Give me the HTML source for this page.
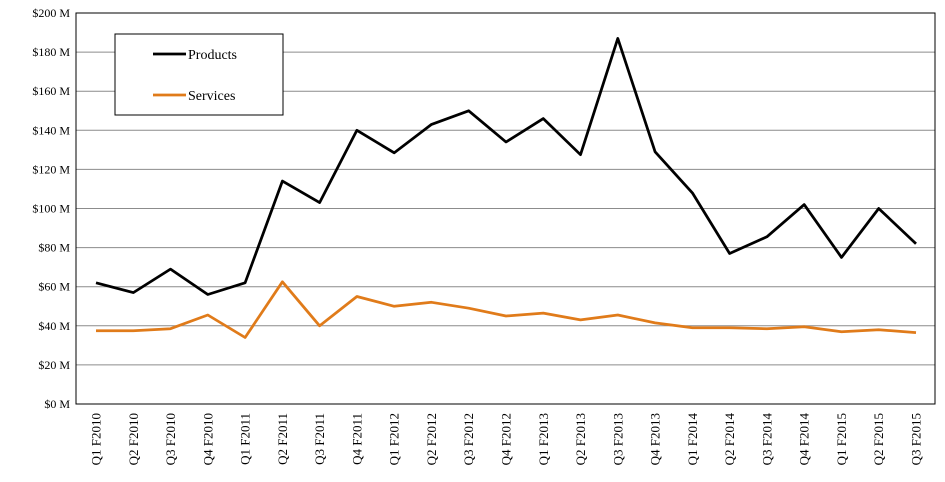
<!DOCTYPE html>
<html><head><meta charset="utf-8"><style>
html,body{margin:0;padding:0;background:#fff;}
svg{display:block;font-family:"Liberation Serif",serif;}
</style></head><body>
<svg id="chart" width="945" height="482"></svg>
<script>
const categories=["Q1 F2010","Q2 F2010","Q3 F2010","Q4 F2010","Q1 F2011","Q2 F2011","Q3 F2011","Q4 F2011","Q1 F2012","Q2 F2012","Q3 F2012","Q4 F2012","Q1 F2013","Q2 F2013","Q3 F2013","Q4 F2013","Q1 F2014","Q2 F2014","Q3 F2014","Q4 F2014","Q1 F2015","Q2 F2015","Q3 F2015"];
const products=[62,57,69,56,62,114,103,140,128.5,143,150,134,146,127.5,187,129,108,77,85.5,102,75,100,82];
const services=[37.5,37.5,38.5,45.5,34,62.5,40,55,50,52,49,45,46.5,43,45.5,41.5,39,39,38.5,39.5,37,38,36.5];
const yTicks=[0,20,40,60,80,100,120,140,160,180,200];
const yTickLabels=["$0 M","$20 M","$40 M","$60 M","$80 M","$100 M","$120 M","$140 M","$160 M","$180 M","$200 M"];

const NS="http://www.w3.org/2000/svg";
const svg=document.getElementById('chart');
const L=76,R=935,T=13,B=404,yMax=200;
const x0=96,x1=916;
function xs(i){return x0+(x1-x0)*i/(categories.length-1);}
function ys(v){return B-(B-T)*v/yMax;}
function mk(tag,attrs,parent){const e=document.createElementNS(NS,tag);for(const k in attrs)e.setAttribute(k,attrs[k]);(parent||svg).appendChild(e);return e;}

const grid=mk('g',{});


yTicks.forEach((t,i)=>{
  const y=ys(t);
  const ln=mk('line',{x1:L,x2:R,y1:y,y2:y,stroke:'#8c8c8c','stroke-width':1},grid);
  
  
  const tx=mk('text',{x:L-6,y:y+4,'text-anchor':'end','font-size':12,fill:'#000'});
  tx.textContent=yTickLabels[i];
  
  
});
const frame=mk('rect',{x:L,y:T,width:R-L,height:B-T,fill:'none',stroke:'#000','stroke-width':1});



categories.forEach((c,i)=>{
  const x=xs(i);
  const tx=mk('text',{x:0,y:0,'text-anchor':'end','font-size':13,fill:'#000',transform:`translate(${x+4.5},${B+9}) rotate(-90)`});
  tx.textContent=c;
  
  
});

function line(vals,color,name){
  const d=vals.map((v,i)=>(i?'L':'M')+xs(i).toFixed(1)+','+ys(v).toFixed(1)).join(' ');
  const p=mk('path',{d:d,fill:'none',stroke:color,'stroke-width':2.75,'stroke-linejoin':'round'});
  
  
}
line(services,'#e07b1a','services-line');
line(products,'#000','products-line');

const lg=mk('g',{});


mk('rect',{x:115,y:34,width:168,height:81,fill:'#fff',stroke:'#000'},lg);
[['Products','#000',54],['Services','#e07b1a',95]].forEach(([n,c,y])=>{
  mk('line',{x1:153,x2:186,y1:y,y2:y,stroke:c,'stroke-width':2.75},lg);
  const t=mk('text',{x:188,y:y+5,'font-size':14,fill:'#000'},lg);
  t.textContent=n;
  
  
});
</script>
</body></html>
